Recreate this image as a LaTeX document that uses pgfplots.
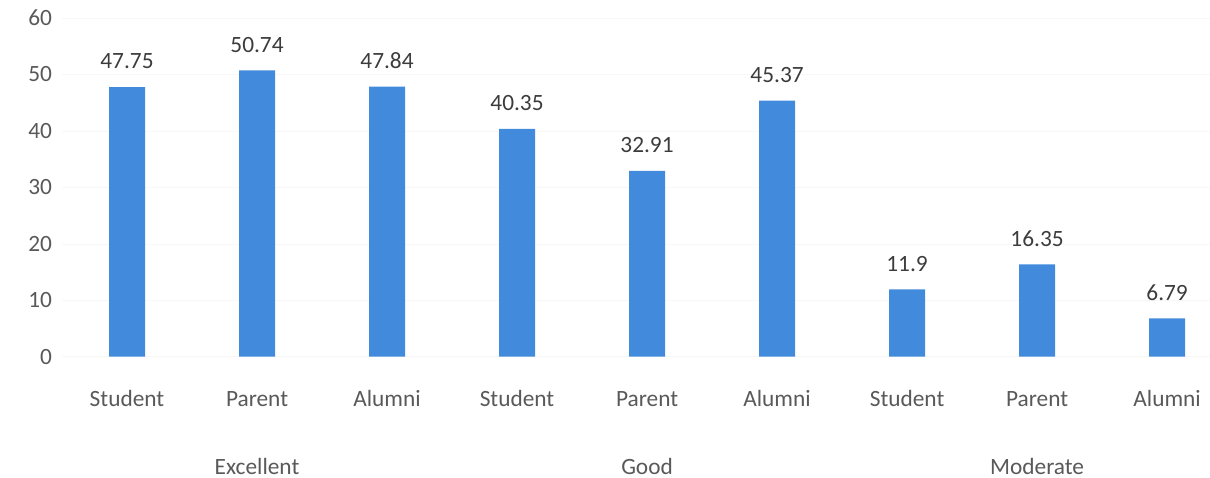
\documentclass[border=0pt]{standalone}
\usepackage{pgfplots}
\pgfplotsset{compat=1.18}
\usepackage{fontspec}
\setmainfont{Carlito}
\definecolor{barblue}{RGB}{66,138,220}
\definecolor{ticktxt}{RGB}{89,89,89}
\definecolor{valtxt}{RGB}{60,60,60}
\begin{document}
\begin{tikzpicture}
\path[use as bounding box] (-46.5pt,-90.75pt) rectangle (861pt,267.5pt);
\begin{axis}[
at={(0,0)}, anchor=south west,
scale only axis,
width=861pt, height=254pt,
xmin=-0.5, xmax=8.33,
ymin=0, ymax=60,
ytick={0,10,...,60},
xtick={0,...,8},
xticklabels={Student,Parent,Alumni,Student,Parent,Alumni,Student,Parent,Alumni},
axis line style={draw=none},
major tick length=0pt,
ymajorgrids,
grid style={black!3},
tick label style={font=\fontsize{17.5}{20}\selectfont, text=ticktxt},
xticklabel style={yshift=-22pt, text height=12pt, text depth=3pt},
yticklabel style={xshift=-4pt},
/pgf/number format/assume math mode=true,
clip=false,
]
\addplot[ybar, bar width=27pt, fill=barblue, draw=none,
  nodes near coords,
  every node near coord/.append style={font=\fontsize{17.5}{20}\selectfont, text=valtxt, yshift=10pt},
  point meta=explicit symbolic]
table[meta=label] {
x y label
0 47.75 47.75
1 50.74 50.74
2 47.84 47.84
3 40.35 40.35
4 32.91 32.91
5 45.37 45.37
6 11.9 11.9
7 16.35 16.35
8 6.79 6.79
};
\node[font=\fontsize{17.5}{20}\selectfont, text=ticktxt] at (axis cs:1,0) [yshift=-82pt] {Excellent};
\node[font=\fontsize{17.5}{20}\selectfont, text=ticktxt] at (axis cs:4,0) [yshift=-82pt] {Good};
\node[font=\fontsize{17.5}{20}\selectfont, text=ticktxt] at (axis cs:7,0) [yshift=-82pt] {Moderate};
\end{axis}
\end{tikzpicture}
\end{document}
